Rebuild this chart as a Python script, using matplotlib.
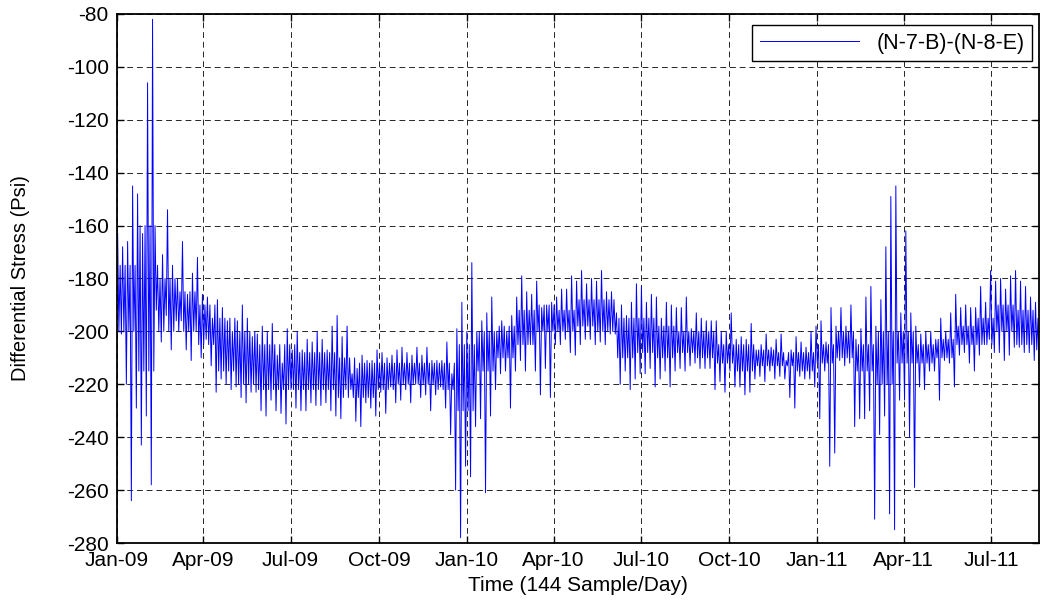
import numpy as np
import matplotlib
matplotlib.use('Agg')
import matplotlib.pyplot as plt
import matplotlib.dates as mdates
from datetime import datetime

plt.rcParams['font.family'] = ['Liberation Sans', 'DejaVu Sans']
plt.rcParams['axes.unicode_minus'] = False

# time span shown and width of each reading bin (days)
start = datetime(2009, 1, 1)
end = datetime(2011, 8, 20)
bin_days = 5.2
core_bins = 4   # bins per reading of the dense core band

# upper / lower envelope of the differential stress (Psi), one pair per bin
stress_hi = [
    -163, -168, -166, -145, -148, -163, -106, -82, -175, -171,
    -154, -175, -180, -166, -186, -178, -172, -186, -187, -195,
    -188, -191, -196, -200, -196, -190, -195, -202, -201, -198,
    -200, -197, -209, -212, -199, -207, -200, -207, -203, -204,
    -200, -203, -207, -198, -194, -202, -198, -216, -214, -209,
    -211, -211, -207, -208, -210, -209, -207, -206, -208, -209,
    -206, -209, -206, -211, -211, -211, -204, -216, -199, -189,
    -200, -174, -200, -196, -193, -187, -200, -196, -200, -194,
    -187, -179, -185, -186, -181, -191, -190, -189, -187, -184,
    -184, -179, -181, -177, -182, -180, -181, -177, -185, -185,
    -193, -190, -194, -189, -182, -183, -189, -186, -187, -195,
    -189, -190, -191, -191, -187, -199, -193, -195, -196, -196,
    -196, -200, -200, -193, -203, -202, -203, -197, -207, -205,
    -201, -206, -203, -201, -211, -207, -202, -204, -206, -200,
    -198, -196, -204, -191, -198, -191, -198, -190, -203, -199,
    -187, -183, -198, -188, -168, -149, -145, -193, -162, -193,
    -198, -201, -200, -200, -203, -195, -200, -193, -186, -191,
    -190, -191, -191, -183, -189, -177, -181, -180, -184, -179,
    -177, -181, -183, -187, -189,
]
stress_lo = [
    -201, -220, -264, -229, -243, -232, -258, -192, -204, -194,
    -207, -196, -196, -207, -211, -200, -210, -203, -213, -223,
    -218, -220, -222, -221, -225, -227, -223, -223, -230, -232,
    -226, -230, -231, -235, -222, -229, -230, -230, -227, -228,
    -228, -227, -230, -232, -233, -222, -222, -234, -236, -227,
    -229, -232, -223, -231, -221, -227, -226, -222, -227, -220,
    -225, -224, -230, -224, -221, -229, -239, -260, -278, -251,
    -255, -236, -233, -261, -232, -222, -216, -215, -229, -215,
    -211, -215, -205, -215, -224, -214, -225, -205, -205, -203,
    -208, -209, -205, -203, -203, -205, -204, -205, -201, -201,
    -220, -215, -222, -218, -216, -216, -214, -221, -218, -215,
    -221, -215, -214, -215, -213, -212, -214, -214, -214, -222,
    -219, -223, -215, -221, -221, -224, -223, -218, -217, -219,
    -215, -218, -217, -218, -225, -229, -217, -218, -218, -221,
    -233, -215, -251, -246, -211, -213, -212, -236, -233, -233,
    -230, -271, -239, -232, -269, -275, -226, -226, -240, -259,
    -221, -222, -215, -215, -226, -211, -212, -221, -209, -208,
    -212, -215, -209, -205, -203, -208, -208, -211, -209, -206,
    -206, -208, -208, -211, -213,
]

# dense core band (where most samples sit), one reading per ~3 weeks
core_hi = [
    -175, -160, -180, -185, -190, -195, -200, -205, -205, -208,
    -208, -210, -212, -212, -212, -212, -212, -205, -200, -198,
    -192, -190, -192, -188, -188, -195, -195, -198, -200, -200,
    -205, -205, -207, -208, -208, -205, -200, -205, -200, -200,
    -205, -203, -198, -195, -190, -192, -195,
]
core_lo = [
    -200, -215, -200, -200, -205, -215, -220, -222, -222, -222,
    -222, -225, -225, -222, -220, -220, -222, -230, -215, -210,
    -205, -200, -200, -198, -200, -210, -208, -210, -208, -210,
    -212, -215, -213, -213, -215, -212, -210, -215, -220, -212,
    -212, -210, -205, -205, -200, -205, -207,
]

series_label = '(N-7-B)-(N-8-E)'
x_title = 'Time (144 Sample/Day)'
y_title = 'Differential Stress (Psi)'
y_ticks = np.arange(-280, -79, 20)

# inside each bin: envelope high, core low, core high, envelope low
n = len(stress_hi)
idx = np.arange(n)
c = idx // core_bins
t0 = mdates.date2num(start) + idx * bin_days
t = np.column_stack([t0 + f * bin_days for f in (0.125, 0.375, 0.625, 0.875)]).ravel()
v = np.column_stack([np.array(stress_hi), np.array(core_lo)[c],
                     np.array(core_hi)[c], np.array(stress_lo)]).ravel()

fig = plt.figure(figsize=(10.41, 6.03), dpi=100)
ax = fig.add_axes([0.1124, 0.0995, 0.8856, 0.8773])

ax.plot(t, v, color='#0000ff', lw=0.7, label=series_label)

ax.set_xlim(mdates.date2num(start), mdates.date2num(end))
ax.set_ylim(-280, -80)
ax.set_yticks(y_ticks)
ax.xaxis.set_major_locator(mdates.MonthLocator(bymonth=[1, 4, 7, 10]))
ax.xaxis.set_major_formatter(mdates.DateFormatter('%b-%y'))

ax.grid(True, color='0.15', linestyle=(0, (6, 4)), linewidth=0.7)
ax.tick_params(direction='in', top=True, right=True, length=5, width=1,
               labelsize=15)
ax.tick_params(axis='x', pad=6)
ax.tick_params(axis='y', pad=6)
for s in ax.spines.values():
    s.set_linewidth(1.3)

ax.set_xlabel(x_title, fontsize=15)
ax.xaxis.set_label_coords(0.5, -0.062)
ax.set_ylabel(y_title, fontsize=14.5)
ax.yaxis.set_label_coords(-0.094, 0.5)

leg = ax.legend(loc='upper right', bbox_to_anchor=(0.9924, 0.979),
                borderaxespad=0, fancybox=False, edgecolor='k', framealpha=1,
                handlelength=4.6, handletextpad=0.8, fontsize=15.5,
                borderpad=0.35)
leg.get_frame().set_linewidth(1.0)

fig.savefig('out.png', dpi=100)
